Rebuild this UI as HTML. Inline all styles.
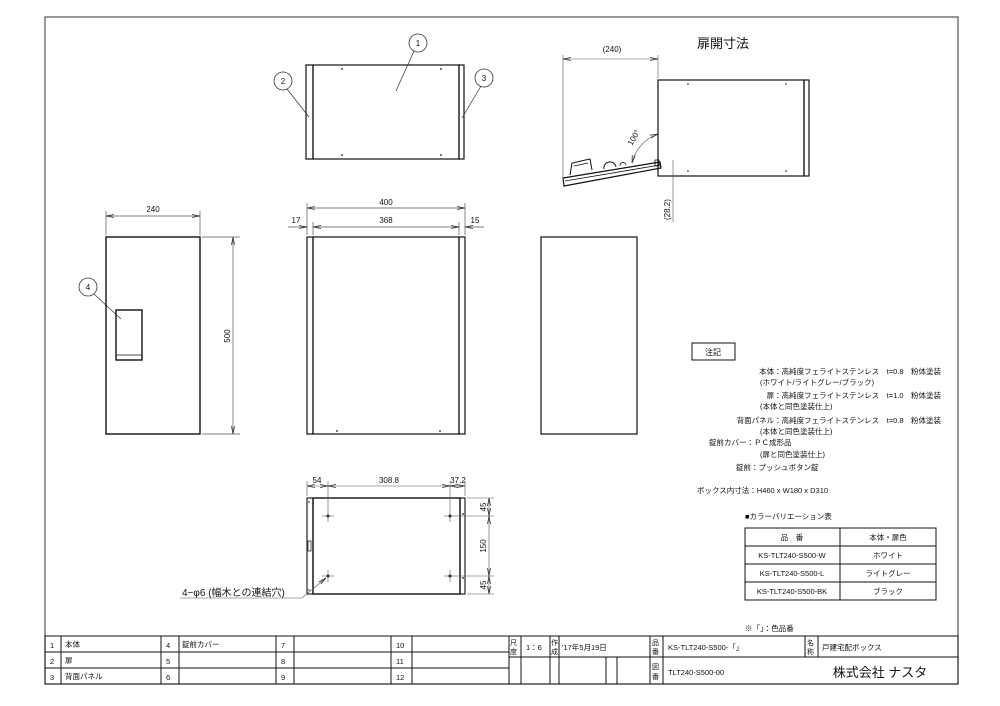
<!DOCTYPE html>
<html><head><meta charset="utf-8"><style>
body{margin:0;background:#fff}
svg{display:block}
text{font-family:"Liberation Sans","Noto Sans CJK JP",sans-serif;fill:#111}
.t{font-size:8px}
</style></head><body>
<svg width="1000" height="706" viewBox="0 0 1000 706" xmlns="http://www.w3.org/2000/svg">
<defs>
<marker id="a" markerWidth="8" markerHeight="6" refX="8" refY="3" orient="auto-start-reverse" markerUnits="userSpaceOnUse"><path d="M0,1.5 L8,3 L0,4.5" fill="none" stroke="#333" stroke-width="0.8"/></marker>
</defs>
<g fill="none" stroke="#555" stroke-width="1.2">
<rect x="45" y="17" width="913" height="667"/>
</g>
<!-- top view -->
<g fill="none" stroke="#111" stroke-width="1.2">
<rect x="306" y="65" width="7" height="94"/>
<rect x="313" y="65" width="146" height="94"/>
<rect x="459" y="65" width="5" height="94"/>
</g>
<g fill="#111"><circle cx="342" cy="69" r="0.9"/><circle cx="441" cy="69" r="0.9"/><circle cx="342" cy="155" r="0.9"/><circle cx="441" cy="155" r="0.9"/></g>
<g fill="#fff" stroke="#333" stroke-width="0.8">
<circle cx="418" cy="43" r="9"/><circle cx="283" cy="81" r="9"/><circle cx="484" cy="78" r="9"/><circle cx="88" cy="287" r="9"/>
</g>
<g stroke="#333" stroke-width="0.7">
<line x1="414" y1="51" x2="396" y2="91"/><line x1="287" y1="89" x2="309" y2="117"/><line x1="481" y1="86" x2="462" y2="118"/><line x1="94" y1="294" x2="121" y2="319"/>
</g>
<g class="t" text-anchor="middle"><text x="418" y="46">1</text><text x="283" y="84">2</text><text x="484" y="81">3</text><text x="88" y="290">4</text></g>
<!-- left front view -->
<g fill="none" stroke="#111" stroke-width="1.4">
<rect x="106" y="237" width="94" height="197"/>
<rect x="116" y="310" width="26" height="50"/>
<line x1="116" y1="355" x2="142" y2="355" stroke-width="0.8"/>
</g>
<g stroke="#555" stroke-width="0.7" fill="none">
<line x1="106" y1="235" x2="106" y2="211"/><line x1="200" y1="235" x2="200" y2="211"/>
<line x1="106" y1="216" x2="200" y2="216" marker-start="url(#a)" marker-end="url(#a)"/>
<line x1="202" y1="237" x2="240" y2="237"/><line x1="202" y1="434" x2="240" y2="434"/>
<line x1="233" y1="237" x2="233" y2="434" marker-start="url(#a)" marker-end="url(#a)"/>
</g>
<text class="t" x="153" y="212" text-anchor="middle">240</text>
<text class="t" x="230" y="336" text-anchor="middle" transform="rotate(-90 230 336)">500</text>
<!-- middle view -->
<g fill="none" stroke="#111" stroke-width="1.2">
<rect x="307" y="237" width="6" height="197"/>
<rect x="313" y="237" width="146" height="197"/>
<rect x="459" y="237" width="6" height="197"/>
</g>
<g fill="#111"><circle cx="337" cy="431" r="0.9"/><circle cx="440" cy="431" r="0.9"/></g>
<g stroke="#555" stroke-width="0.7" fill="none">
<line x1="307" y1="235" x2="307" y2="203"/><line x1="465" y1="235" x2="465" y2="203"/><line x1="313" y1="235" x2="313" y2="222"/><line x1="459" y1="235" x2="459" y2="222"/>
<line x1="307" y1="208" x2="465" y2="208" marker-start="url(#a)" marker-end="url(#a)"/>
<line x1="313" y1="227" x2="459" y2="227" marker-start="url(#a)" marker-end="url(#a)"/>
<line x1="288" y1="227" x2="307" y2="227" marker-end="url(#a)"/><line x1="484" y1="227" x2="465" y2="227" marker-end="url(#a)"/>
</g>
<g class="t" text-anchor="middle"><text x="386" y="205">400</text><text x="386" y="223">368</text><text x="296" y="223">17</text><text x="475" y="223">15</text></g>
<!-- right view -->
<rect x="541" y="237" width="96" height="197" fill="none" stroke="#111" stroke-width="1.2"/>
<!-- bottom view -->
<g fill="none" stroke="#111" stroke-width="1.1">
<rect x="307" y="498" width="6" height="96"/>
<rect x="313" y="498" width="147" height="96" stroke-width="1.4"/>
<rect x="460" y="498" width="5" height="96"/>
<rect x="308" y="541" width="3" height="10" stroke-width="0.7"/>
</g>
<g fill="#111"><circle cx="328" cy="516" r="1.5"/><circle cx="450" cy="516" r="1.5"/><circle cx="328" cy="576" r="1.5"/><circle cx="450" cy="576" r="1.5"/><circle cx="463" cy="514" r="0.9"/><circle cx="463" cy="578" r="0.9"/><circle cx="309" cy="502" r="0.8"/><circle cx="309" cy="590" r="0.8"/></g>
<g stroke="#555" stroke-width="0.6" fill="none">
<line x1="322" y1="516" x2="334" y2="516"/><line x1="328" y1="510" x2="328" y2="522"/><line x1="444" y1="516" x2="456" y2="516"/><line x1="450" y1="510" x2="450" y2="522"/>
<line x1="322" y1="576" x2="334" y2="576"/><line x1="328" y1="570" x2="328" y2="582"/><line x1="444" y1="576" x2="456" y2="576"/><line x1="450" y1="570" x2="450" y2="582"/>
<line x1="307" y1="496" x2="307" y2="481"/><line x1="328" y1="510" x2="328" y2="481"/><line x1="450" y1="510" x2="450" y2="481"/><line x1="465" y1="496" x2="465" y2="481"/>
<line x1="307" y1="486" x2="328" y2="486" marker-start="url(#a)" marker-end="url(#a)"/>
<line x1="328" y1="486" x2="450" y2="486" marker-start="url(#a)" marker-end="url(#a)"/>
<line x1="450" y1="486" x2="465" y2="486" marker-start="url(#a)" marker-end="url(#a)"/>
<line x1="467" y1="498" x2="494" y2="498"/><line x1="456" y1="516" x2="494" y2="516"/><line x1="456" y1="576" x2="494" y2="576"/><line x1="467" y1="594" x2="494" y2="594"/>
<line x1="489" y1="498" x2="489" y2="516" marker-start="url(#a)" marker-end="url(#a)"/>
<line x1="489" y1="516" x2="489" y2="576" marker-start="url(#a)" marker-end="url(#a)"/>
<line x1="489" y1="576" x2="489" y2="594" marker-start="url(#a)" marker-end="url(#a)"/>
<polyline points="180,598 302,598 326,578" marker-end="url(#a)"/>
</g>
<g class="t" text-anchor="middle"><text x="317" y="483">54</text><text x="389" y="483">308.8</text><text x="458" y="483">37.2</text></g>
<g class="t" text-anchor="middle"><text transform="translate(486 507) rotate(-90)">45</text><text transform="translate(486 546) rotate(-90)">150</text><text transform="translate(486 585) rotate(-90)">45</text></g>
<text x="182" y="596" style="font-size:10px">4−φ6 (幅木との連結穴)</text>
<!-- door open -->
<text x="723" y="48" text-anchor="middle" style="font-size:13px">扉開寸法</text>
<g fill="none" stroke="#111" stroke-width="1.2">
<rect x="658" y="80" width="146" height="96"/><rect x="804" y="80" width="5" height="96"/>
<polygon points="563,178 660,162 661,168 564,186"/>
<line x1="565" y1="181" x2="660" y2="165" stroke-width="0.8"/>
<polyline points="570,175 572,163 590,159 592,170" stroke-width="1"/>
<line x1="574" y1="166" x2="588" y2="163" stroke-width="0.8"/>
<path d="M604,169 a6,6 0 0 1 12,-2" stroke-width="1"/>
<path d="M620,166 a3,3 0 0 1 6,-1" stroke-width="0.8"/>
<rect x="655" y="160" width="4" height="6" stroke-width="0.8"/>
</g>
<g fill="#111"><circle cx="688" cy="84" r="0.8"/><circle cx="786" cy="84" r="0.8"/><circle cx="688" cy="171" r="0.8"/><circle cx="786" cy="171" r="0.8"/></g>
<g stroke="#555" stroke-width="0.6" fill="none">
<line x1="563" y1="55" x2="563" y2="180"/><line x1="658" y1="55" x2="658" y2="78"/>
<line x1="563" y1="59" x2="658" y2="59" marker-start="url(#a)" marker-end="url(#a)"/>
<path d="M658,134 A40,40 0 0 0 632,163" marker-start="url(#a)" marker-end="url(#a)"/>
<line x1="673" y1="160" x2="673" y2="222"/>
</g>
<text class="t" x="612" y="52" text-anchor="middle">(240)</text>
<text class="t" transform="translate(632 146) rotate(-60)">100°</text>
<text class="t" transform="translate(670 220) rotate(-90)">(28.2)</text>
<!-- notes -->
<rect x="692" y="343" width="43" height="17" fill="none" stroke="#111" stroke-width="1"/>
<text class="t" x="713" y="355" text-anchor="middle">注記</text>
<g class="t" style="font-size:7.5px">
<text x="941" y="374" text-anchor="end">本体：高純度フェライトステンレス　t=0.8　粉体塗装</text>
<text x="760" y="385">(ホワイト/ライトグレー/ブラック)</text>
<text x="941" y="398" text-anchor="end">扉：高純度フェライトステンレス　t=1.0　粉体塗装</text>
<text x="760" y="409">(本体と同色塗装仕上)</text>
<text x="941" y="423" text-anchor="end">背面パネル：高純度フェライトステンレス　t=0.8　粉体塗装</text>
<text x="760" y="434">(本体と同色塗装仕上)</text>
<text x="709" y="445">錠前カバー：ＰＣ成形品</text>
<text x="760" y="457">(扉と同色塗装仕上)</text>
<text x="736" y="470">錠前：プッシュボタン錠</text>
<text x="697" y="493">ボックス内寸法：H460 x W180 x D310</text>
<text x="745" y="519">■カラーバリエーション表</text>
<text x="745" y="631">※「」：色品番</text>
</g>
<g fill="none" stroke="#111" stroke-width="1"><rect x="745" y="528" width="191" height="72"/><line x1="745" y1="546" x2="936" y2="546"/><line x1="745" y1="564" x2="936" y2="564"/><line x1="745" y1="582" x2="936" y2="582"/><line x1="840" y1="528" x2="840" y2="600"/></g>
<g class="t" text-anchor="middle" style="font-size:7.5px">
<text x="792" y="540">品　番</text><text x="888" y="540">本体・扉色</text>
<text x="792" y="558">KS-TLT240-S500-W</text><text x="888" y="558">ホワイト</text>
<text x="792" y="576">KS-TLT240-S500-L</text><text x="888" y="576">ライトグレー</text>
<text x="792" y="594">KS-TLT240-S500-BK</text><text x="888" y="594">ブラック</text>
</g>
<!-- title block -->
<g fill="none" stroke="#111" stroke-width="1">
<rect x="45" y="636" width="913" height="48"/>
<line x1="45" y1="652" x2="509" y2="652"/><line x1="45" y1="668" x2="509" y2="668"/>
<line x1="509" y1="657" x2="958" y2="657"/>
<line x1="61" y1="636" x2="61" y2="684"/><line x1="161" y1="636" x2="161" y2="684"/><line x1="179" y1="636" x2="179" y2="684"/>
<line x1="276" y1="636" x2="276" y2="684"/><line x1="294" y1="636" x2="294" y2="684"/><line x1="391" y1="636" x2="391" y2="684"/><line x1="412" y1="636" x2="412" y2="684"/>
<line x1="509" y1="636" x2="509" y2="684"/><line x1="521" y1="636" x2="521" y2="684"/><line x1="550" y1="636" x2="550" y2="684"/><line x1="559" y1="636" x2="559" y2="684"/>
<line x1="606" y1="657" x2="606" y2="684"/><line x1="617" y1="657" x2="617" y2="684"/>
<line x1="650" y1="636" x2="650" y2="684"/><line x1="663" y1="636" x2="663" y2="684"/>
<line x1="805" y1="636" x2="805" y2="657"/><line x1="818" y1="636" x2="818" y2="657"/>
</g>
<g class="t" style="font-size:7.5px">
<text x="50" y="648">1</text><text x="65" y="647">本体</text><text x="166" y="648">4</text><text x="182" y="647">錠前カバー</text><text x="281" y="648">7</text><text x="396" y="648">10</text>
<text x="50" y="664">2</text><text x="65" y="663">扉</text><text x="166" y="664">5</text><text x="281" y="664">8</text><text x="396" y="664">11</text>
<text x="50" y="680">3</text><text x="65" y="679">背面パネル</text><text x="166" y="680">6</text><text x="281" y="680">9</text><text x="396" y="680">12</text>
<text x="510" y="645" style="font-size:7px">尺</text><text x="510" y="654" style="font-size:7px">度</text>
<text x="526" y="650">1：6</text>
<text x="551" y="645" style="font-size:7px">作</text><text x="551" y="654" style="font-size:7px">成</text>
<text x="562" y="650">'17年5月19日</text>
<text x="652" y="645" style="font-size:7px">品</text><text x="652" y="654" style="font-size:7px">番</text>
<text x="668" y="650">KS-TLT240-S500-「」</text>
<text x="807" y="645" style="font-size:7px">名</text><text x="807" y="654" style="font-size:7px">称</text>
<text x="822" y="650">戸建宅配ボックス</text>
<text x="652" y="669" style="font-size:7px">図</text><text x="652" y="679" style="font-size:7px">番</text>
<text x="668" y="675">TLT240-S500-00</text>
<text x="880" y="677" text-anchor="middle" style="font-size:13px">株式会社 ナスタ</text>
</g>
</svg>
</body></html>
